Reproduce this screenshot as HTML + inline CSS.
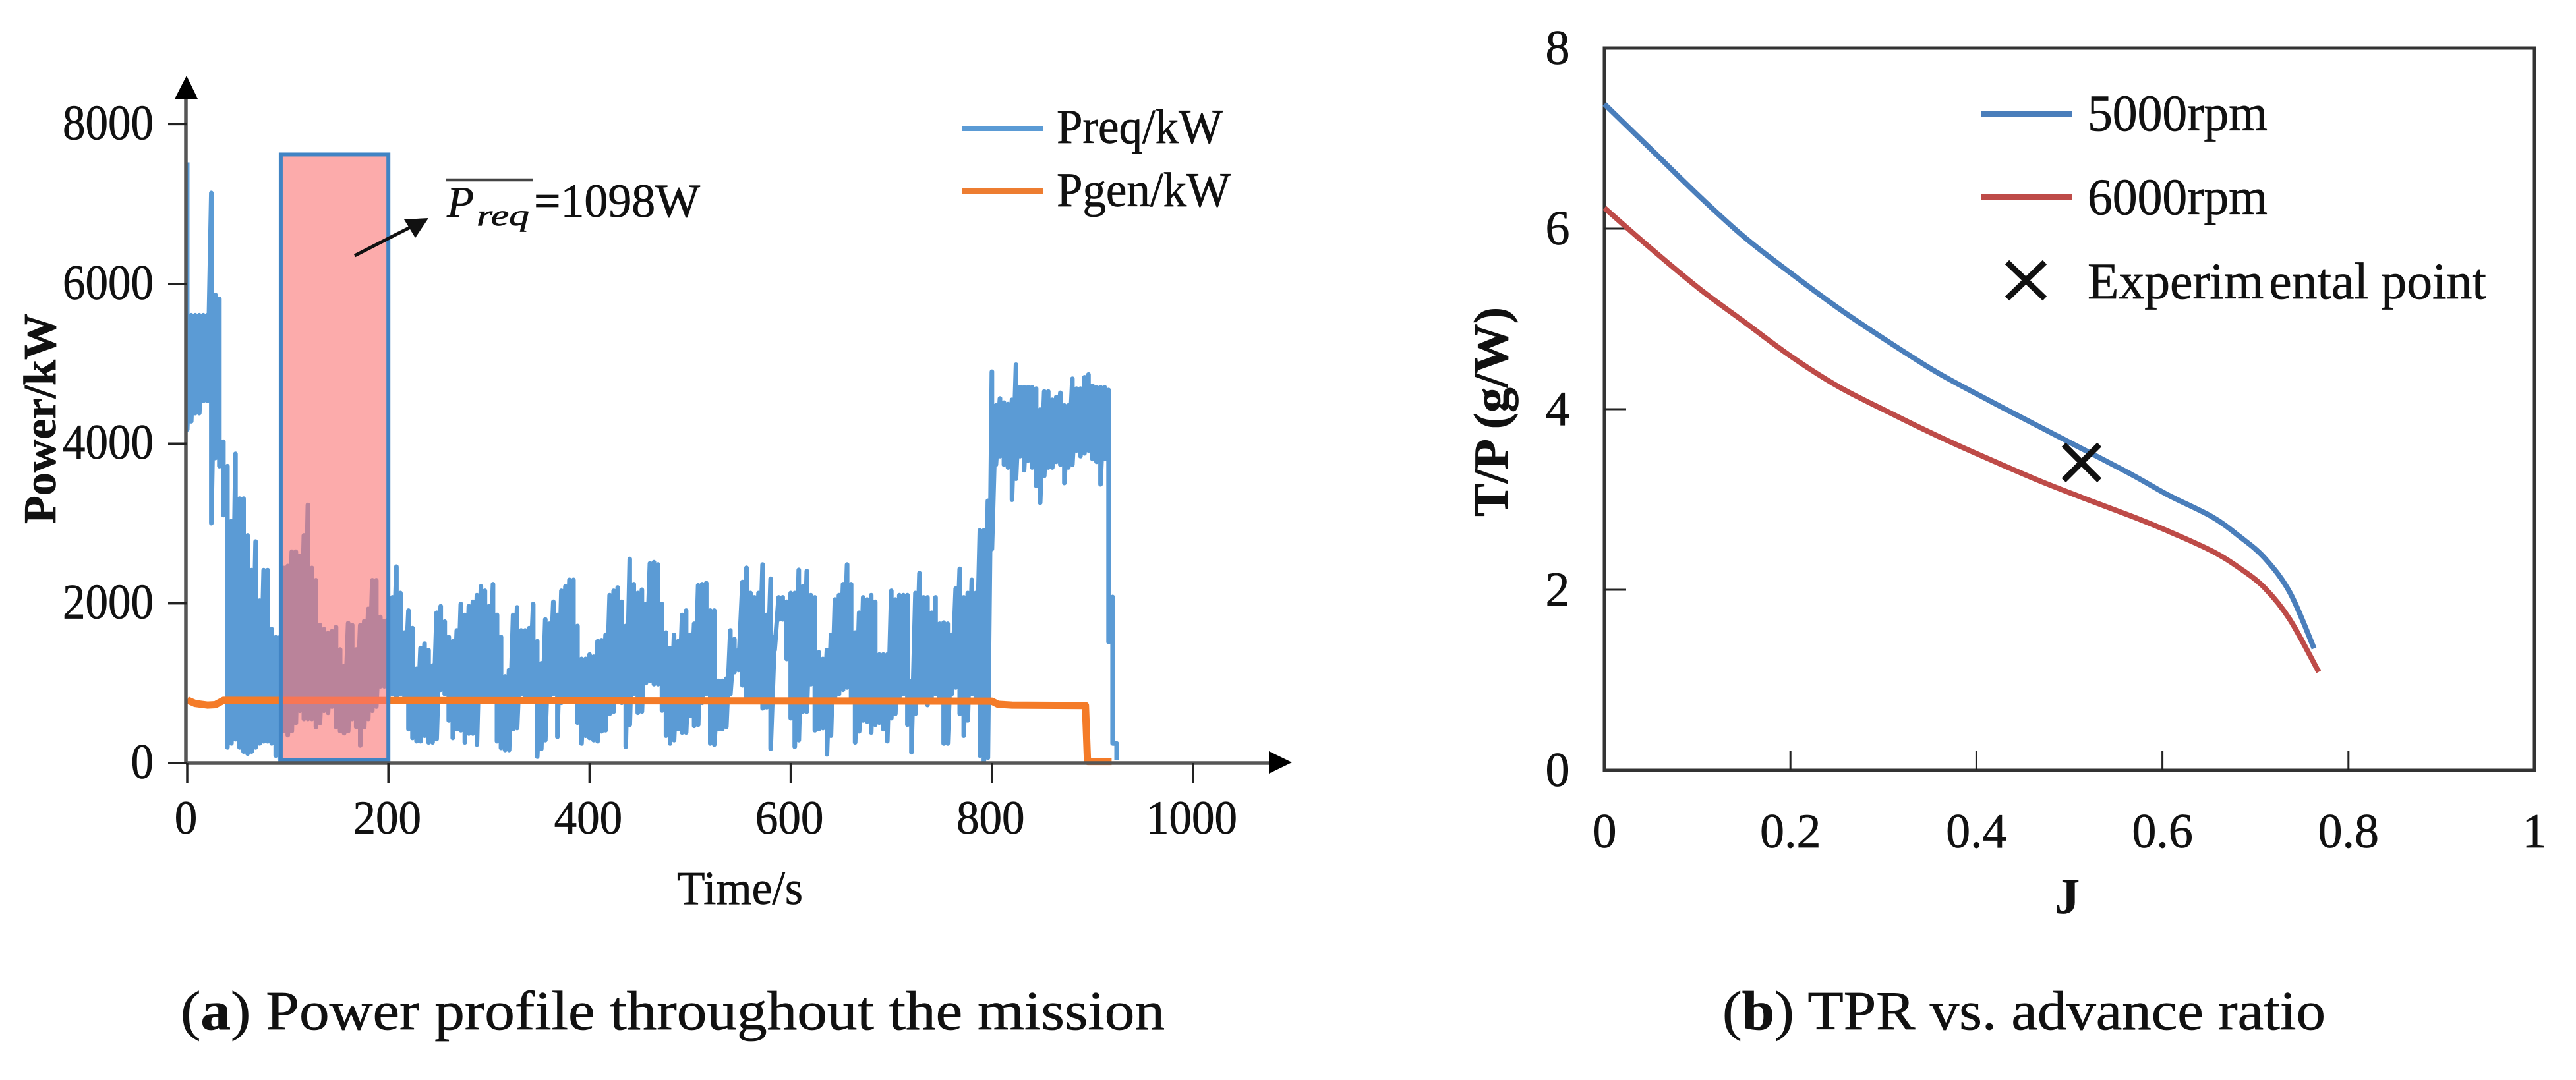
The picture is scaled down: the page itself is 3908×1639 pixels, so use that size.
<!DOCTYPE html>
<html lang="en">
<head>
<meta charset="utf-8">
<title>Power profile and TPR vs. advance ratio</title>
<style>
html,body{margin:0;padding:0;background:#fff;width:3908px;height:1639px;overflow:hidden}
svg{display:block}
text{font-family:"Liberation Serif",serif;fill:#111;stroke:#111;stroke-width:.7px}
</style>
</head>
<body>
<svg id="fig" xmlns="http://www.w3.org/2000/svg" width="3908" height="1639" viewBox="0 0 3908 1639">
  <rect x="0" y="0" width="3908" height="1639" fill="#ffffff"/>

  <g id="chartA"></g>
  <g id="chartB"></g>

  <text transform="translate(84,795) rotate(-90)" font-size="70" font-weight="bold" textLength="319" lengthAdjust="spacingAndGlyphs">Power/kW</text>
  <text x="1027" y="1372" font-size="72" textLength="191" lengthAdjust="spacingAndGlyphs">Time/s</text>

  <line x1="1459" y1="195" x2="1583" y2="195" stroke="#5B9BD5" stroke-width="8"/>
  <text x="1603" y="217" font-size="74" textLength="252" lengthAdjust="spacingAndGlyphs">Preq/kW</text>
  <line x1="1459" y1="290" x2="1583" y2="290" stroke="#ED7D31" stroke-width="8"/>
  <text x="1603" y="313" font-size="74" textLength="264" lengthAdjust="spacingAndGlyphs">Pgen/kW</text>

  <line x1="538" y1="388" x2="632" y2="340" stroke="#111" stroke-width="5"/>
  <polygon points="650,331 613,333 630,361" fill="#111"/>
  <line x1="677" y1="273" x2="808" y2="273" stroke="#444" stroke-width="4.5"/>
  <text x="678" y="329" font-size="67" font-style="italic">P</text>
  <text x="723" y="342" font-size="46" font-style="italic" textLength="80" lengthAdjust="spacingAndGlyphs">req</text>
  <text x="810" y="329" font-size="72" textLength="252" lengthAdjust="spacingAndGlyphs">=1098W</text>

  <text transform="translate(2287,784) rotate(-90)" font-size="74" font-weight="bold" textLength="318" lengthAdjust="spacingAndGlyphs">T/P (g/W)</text>
  <text x="3136" y="1386" font-size="76" font-weight="bold" text-anchor="middle">J</text>

  <line x1="3005" y1="173" x2="3143" y2="173" stroke="#4A7EBB" stroke-width="9"/>
  <text x="3167" y="198" font-size="78" textLength="273" lengthAdjust="spacingAndGlyphs">5000rpm</text>
  <line x1="3005" y1="299" x2="3143" y2="299" stroke="#BE4B48" stroke-width="9"/>
  <text x="3167" y="325" font-size="78" textLength="273" lengthAdjust="spacingAndGlyphs">6000rpm</text>
  <g stroke="#111" stroke-width="9">
    <line x1="3045" y1="398" x2="3102" y2="453"/>
    <line x1="3102" y1="398" x2="3045" y2="453"/>
  </g>
  <text x="3167" y="453" font-size="78" textLength="605" lengthAdjust="spacingAndGlyphs">Experim<tspan dx="8">ental point</tspan></text>

  <text x="274" y="1562" font-size="84" textLength="1493" lengthAdjust="spacingAndGlyphs">(<tspan font-weight="bold">a</tspan>) Power profile throughout the mission</text>
  <text x="2613" y="1562" font-size="84" textLength="915" lengthAdjust="spacingAndGlyphs">(<tspan font-weight="bold">b</tspan>) TPR vs. advance ratio</text>
</svg>

<script>
// ---- Chart A data ----
const powerYTicks = [0, 2000, 4000, 6000, 8000];
const timeTicks = [0, 200, 400, 600, 800, 1000];
const preqSampleSeconds = 4;
const preqValues = [
7521,4177,5607,4279,5607,4381,5607,4381,5607,4535,5607,4535,7138,3003,5862,3820,5811,3718,4024,3105,
3718,196,3029,247,3871,298,3310,196,3310,144,2850,119,2416,144,2773,196,2033,247,2416,272,
2416,272,1676,247,1574,93,1574,42,2442,400,2467,349,2646,400,2646,502,2595,655,2850,553,
3233,553,2442,553,2289,451,1727,502,1676,655,1625,629,1650,706,1702,451,1421,400,1216,374,
1752,400,1727,553,1421,451,1727,221,1778,451,1931,553,2289,655,2289,706,1829,961,1778,961,
1799,809,2074,864,2459,809,2129,864,1634,836,1909,424,1689,314,1180,273,1441,273,1496,342,
1414,259,1221,259,1882,300,1964,919,1771,864,1579,534,1524,314,1661,424,1992,410,1854,259,
1964,369,2019,369,2102,232,2212,809,2157,836,1964,809,2239,809,1854,273,1579,190,1084,163,
1166,163,1854,424,1950,438,1661,864,1661,836,1689,809,1992,809,1524,80,1249,177,1799,287,
1744,809,2019,864,1854,328,2157,754,2212,809,2294,809,2294,809,1716,507,1304,245,1304,342,
1359,314,1332,287,1524,273,1538,397,1606,410,2102,616,2157,644,2198,809,2019,754,1716,204,
2555,479,2239,864,2129,630,2170,644,1992,1002,2500,1029,2514,988,2486,988,1992,658,1634,342,
1441,245,1606,287,1524,424,1854,383,1909,383,1606,589,1744,465,2225,479,2239,754,2253,864,
1909,245,1909,232,
1029,424,1029,424,1057,452,1661,864,1551,1139,1414,1166,2267,974,2445,781,2129,795,2074,823,
2129,809,2486,685,1854,699,2308,177,1579,1414,2074,1799,2074,1799,2019,1304,2129,562,2129,204,
2418,287,2212,644,2404,644,2102,988,2074,410,1386,424,1304,438,1414,108,1606,342,2047,809,
2102,864,2239,919,2486,946,2239,823,1634,259,1882,397,2074,534,2047,520,2102,383,2019,479,
1359,507,1359,424,1359,273,2157,562,2047,616,2102,823,2102,864,2102,479,1029,135,2129,616,
2377,836,2074,823,2074,726,1882,823,2074,864,1744,781,1758,245,1744,245,1606,864,2184,946,
2432,616,2074,342,2129,534,2294,864,2129,809,2913,94,2913,12,3284,66,
4900,2679,4477,3736,4565,3842,4512,3736,4495,3701,4548,3296,4988,3560,4706,3842,4706,3666,4706,3789,
4706,3701,4688,3472,4424,3260,4653,3596,4653,3701,4548,3701,4583,3772,4636,3736,4477,3507,4477,3701,
4812,3736,4688,3913,4688,3842,4830,3878,4865,3913,4724,3807,4706,3772,4706,3490,4706,3807,4671,1515,
2079,246,246,34
];
const pgenTimes = [0, 8, 20, 28, 36, 800, 806, 820, 893, 895, 919];
const pgenValues = [790, 745, 725, 730, 785, 775, 735, 725, 720, 20, 20];
const highlightStartTime = 93;
const highlightEndTime = 200;
const highlightTopValue = 7620;
const highlightBottomValue = 40;

// ---- Chart B data ----
const jTicks = [0, 0.2, 0.4, 0.6, 0.8, 1];
const tprYTicks = [0, 2, 4, 6, 8];
const curve5000J = [0,0.05,0.104,0.15,0.2,0.25,0.305,0.359,0.413,0.467,0.514,0.568,0.606,0.653,0.683,0.71,0.737,0.763];
const curve5000Tpr = [7.38,6.88,6.34,5.91,5.51,5.13,4.75,4.40,4.10,3.81,3.56,3.27,3.05,2.81,2.59,2.35,1.97,1.35];
const curve6000J = [0,0.05,0.104,0.15,0.2,0.25,0.305,0.359,0.413,0.467,0.514,0.568,0.606,0.653,0.683,0.71,0.737,0.768];
const curve6000Tpr = [6.23,5.78,5.32,4.97,4.59,4.26,3.97,3.70,3.45,3.21,3.02,2.81,2.65,2.43,2.24,2.02,1.67,1.09];
const experimentJ = [0.513];
const experimentTpr = [3.41];

const NS = 'http://www.w3.org/2000/svg';
function mk(tag, parent, attrs) {
  const el = document.createElementNS(NS, tag);
  for (const k in attrs) el.setAttribute(k, attrs[k]);
  parent.appendChild(el);
  return el;
}

// Axis functions
const xA = t => 284 + t * 1.526;
const yA = v => 1158 - v * 0.1212;
const xB = j => 2434 + j * 1411;
const yB = v => 1169 - v * 137;

// Smooth path through a set of points (Catmull-Rom)
function smoothPath(pts) {
  let d = 'M' + pts[0][0].toFixed(1) + ' ' + pts[0][1].toFixed(1);
  for (let i = 0; i < pts.length - 1; i++) {
    const p0 = pts[Math.max(0, i - 1)], p1 = pts[i], p2 = pts[i + 1], p3 = pts[Math.min(pts.length - 1, i + 2)];
    const c1x = p1[0] + (p2[0] - p0[0]) / 6, c1y = p1[1] + (p2[1] - p0[1]) / 6;
    const c2x = p2[0] - (p3[0] - p1[0]) / 6, c2y = p2[1] - (p3[1] - p1[1]) / 6;
    d += 'C' + c1x.toFixed(1) + ' ' + c1y.toFixed(1) + ' ' + c2x.toFixed(1) + ' ' + c2y.toFixed(1) + ' ' + p2[0].toFixed(1) + ' ' + p2[1].toFixed(1);
  }
  return d;
}

const gA = document.getElementById('chartA');
const gB = document.getElementById('chartB');

// ---- Chart A marks ----
// Each sampling interval contributes its peak then its trough at the same time position.
const preqLine = mk('polyline', gA, {
  points: preqValues.map((v, i) => xA(Math.floor(i / 2) * preqSampleSeconds).toFixed(1) + ',' + yA(v).toFixed(1)).join(' '),
  fill: 'none', stroke: '#5B9BD5', 'stroke-width': 7, 'stroke-linejoin': 'round'
});



const pgenLine = mk('polyline', gA, {
  points: pgenTimes.map((t, i) => xA(t).toFixed(1) + ',' + yA(pgenValues[i]).toFixed(1)).join(' '),
  fill: 'none', stroke: '#F47B28', 'stroke-width': 11, 'stroke-linejoin': 'round'
});



const highlight = mk('rect', gA, {
  x: xA(highlightStartTime), y: yA(highlightTopValue),
  width: xA(highlightEndTime) - xA(highlightStartTime),
  height: yA(highlightBottomValue) - yA(highlightTopValue),
  fill: 'rgb(250,115,115)', 'fill-opacity': 0.6, stroke: '#4184C4', 'stroke-width': 6
});



const axisColor = '#555555';
const powerXAxis = mk('line', gA, { x1: 282, y1: 1158, x2: 1930, y2: 1158, stroke: axisColor, 'stroke-width': 5.5 });


const powerYAxis = mk('line', gA, { x1: 282, y1: 1160, x2: 282, y2: 145, stroke: axisColor, 'stroke-width': 5.5 });


const arrowX = mk('polygon', gA, { points: '1960,1157 1925,1140 1925,1174', fill: '#000' });


const arrowY = mk('polygon', gA, { points: '283,115 265,150 300,150', fill: '#000' });



powerYTicks.forEach(v => {
  const tick = mk('line', gA, { x1: 255, y1: yA(v), x2: 283, y2: yA(v), stroke: '#222', 'stroke-width': 3.5 });
  
  
  const s = String(v);
  const lab = mk('text', gA, { x: 233, y: yA(v) + 23, 'font-size': 75, 'text-anchor': 'end', textLength: s.length * 34.5, lengthAdjust: 'spacingAndGlyphs' });
  lab.textContent = s;
  
  
});
timeTicks.forEach(t => {
  const tick = mk('line', gA, { x1: xA(t), y1: 1158, x2: xA(t), y2: 1188, stroke: '#222', 'stroke-width': 3.5 });
  
  
  const s = String(t);
  const lab = mk('text', gA, { x: xA(t) - 2, y: 1265, 'font-size': 72, 'text-anchor': 'middle', textLength: s.length * 34.5, lengthAdjust: 'spacingAndGlyphs' });
  lab.textContent = s;
  
  
});

// ---- Chart B marks ----
const frame = mk('rect', gB, { x: 2434, y: 73, width: 1411, height: 1096, fill: 'none', stroke: '#333', 'stroke-width': 5 });



tprYTicks.forEach(v => {
  if (v > 0 && v < 8) {
    const tick = mk('line', gB, { x1: 2434, y1: yB(v), x2: 2467, y2: yB(v), stroke: '#222', 'stroke-width': 3 });
    
    
  }
  const lab = mk('text', gB, { x: 2363, y: yB(v) + 24, 'font-size': 74, 'text-anchor': 'middle' });
  lab.textContent = String(v);
  
  
});
jTicks.forEach(j => {
  if (j > 0 && j < 1) {
    const tick = mk('line', gB, { x1: xB(j), y1: 1169, x2: xB(j), y2: 1139, stroke: '#222', 'stroke-width': 3 });
    
    
  }
  const lab = mk('text', gB, { x: xB(j), y: 1286, 'font-size': 74, 'text-anchor': 'middle' });
  lab.textContent = String(j);
  
  
});

const curve5000 = mk('path', gB, {
  d: smoothPath(curve5000J.map((j, i) => [xB(j), yB(curve5000Tpr[i])])),
  fill: 'none', stroke: '#4A7EBB', 'stroke-width': 8, 'stroke-linejoin': 'round'
});


const curve6000 = mk('path', gB, {
  d: smoothPath(curve6000J.map((j, i) => [xB(j), yB(curve6000Tpr[i])])),
  fill: 'none', stroke: '#BE4B48', 'stroke-width': 8, 'stroke-linejoin': 'round'
});



experimentJ.forEach((j, i) => {
  const cx = xB(j), cy = yB(experimentTpr[i]);
  const arm = 27;
  const mark = mk('path', gB, {
    d: 'M' + (cx - arm) + ' ' + (cy - arm) + 'L' + (cx + arm) + ' ' + (cy + arm) + 'M' + (cx + arm) + ' ' + (cy - arm) + 'L' + (cx - arm) + ' ' + (cy + arm),
    fill: 'none', stroke: '#111', 'stroke-width': 9
  });
  
  
});
</script>
</body>
</html>
